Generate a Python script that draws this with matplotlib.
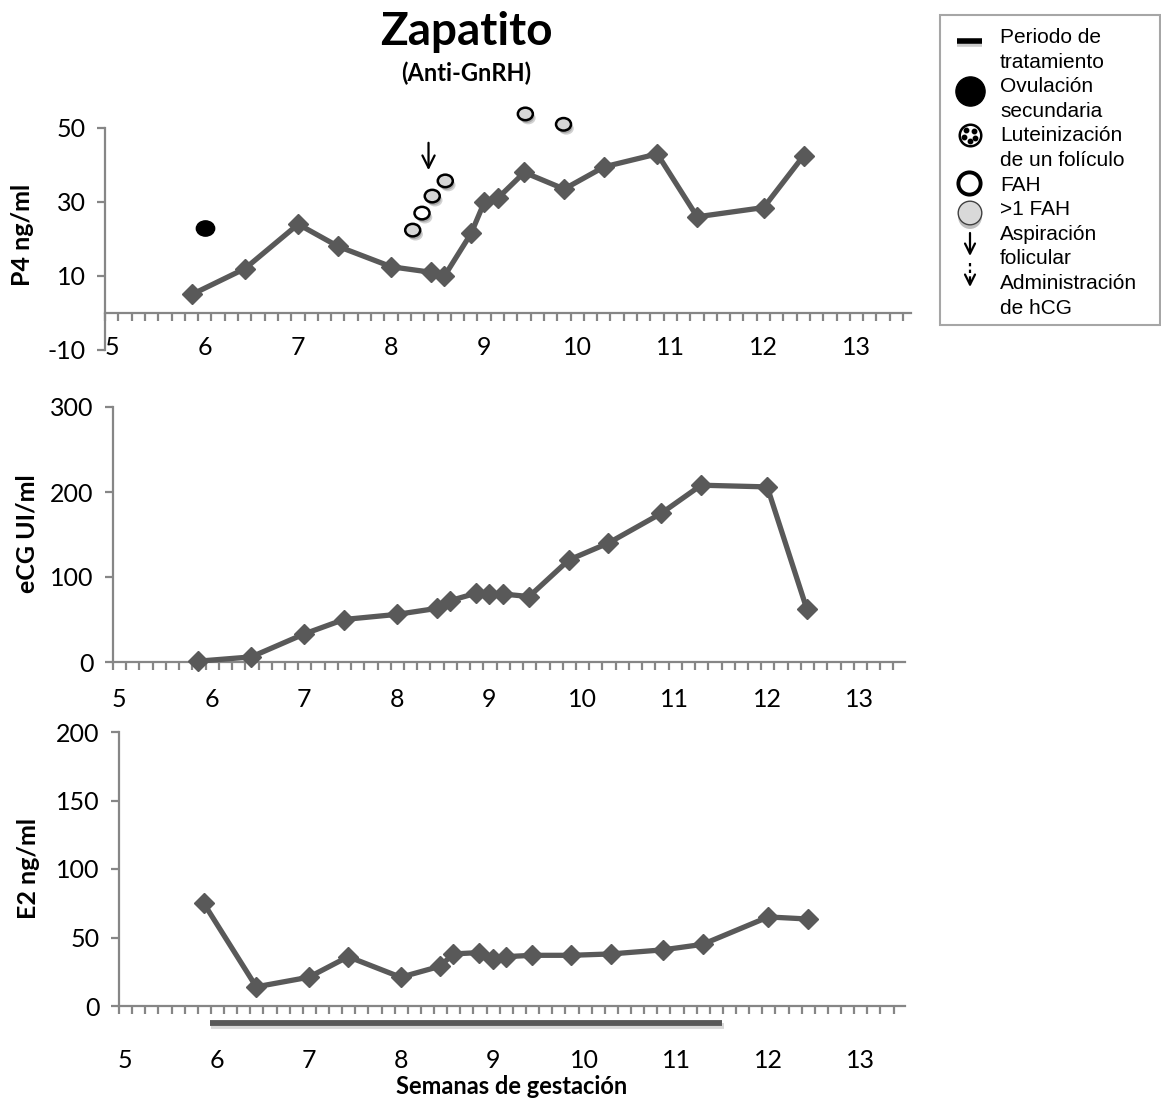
import matplotlib
matplotlib.use("Agg")
import matplotlib.pyplot as plt
import matplotlib.patheffects as pe
from matplotlib.markers import MarkerStyle
from matplotlib.patches import Rectangle
from matplotlib.ticker import FixedLocator
from matplotlib.transforms import Affine2D
import numpy as np

plt.rcParams["axes.unicode_minus"] = False

# ---------------- datos ----------------
# Día de gestación de cada muestreo (se grafica en semanas)
dias = [41, 45, 49, 52, 56, 59, 60, 62, 63, 64, 66, 69, 72, 76, 79, 84, 87]
p4 = [5, 12, 24, 18, 12.5, 11, 10, 21.5, 30, 31, 38, 33.5, 39.5, 43, 26, 28.5, 42.5]
ecg = [1, 6, 33, 50, 56, 63, 72, 81, 80, 80, 77, 120, 140, 175, 208, 206, 62]
e2 = [75, 14, 21, 36, 21, 29, 38, 39, 34, 36, 37, 37, 38, 41, 45, 65, 63.5]

# Eventos ováricos (semana, posición vertical en la escala de P4)
ovulacion_sem = [6.0]
ovulacion_p4 = [23]
fah_sem = [8.33]
fah_p4 = [27]
fah_multi_sem = [8.23, 8.44, 8.58, 9.44, 9.85]
fah_multi_p4 = [22.4, 31.6, 35.7, 53.8, 51]
aspiracion_sem = 8.40
aspiracion_p4 = (46, 38.6)

# Periodo de tratamiento (semanas)
tratamiento = (5.925, 11.5)

semanas_ticks = list(range(5, 14))
p4_ticks = [-10, 10, 30, 50]
ecg_ticks = [0, 100, 200, 300]
e2_ticks = [0, 50, 100, 150, 200]

semanas = [d / 7 for d in dias]

# ---------------- estilo ----------------
GRIS_EJE = "#868686"
GRIS_LINEA = "#595959"
FUENTE = "Lato"
TAM_TICK = 18
TAM_EJE = 18
W, H = 1161, 1099

fig = plt.figure(figsize=(W / 100, H / 100), dpi=100)
fig.patch.set_facecolor("white")


def ejes(px_left, px_right, px_top, px_bottom):
    return fig.add_axes([px_left / W, 1 - px_bottom / H,
                         (px_right - px_left) / W, (px_bottom - px_top) / H])


def estilo(ax, xlim, ylim, yticks, pad_x):
    ax.set_xlim(xlim)
    ax.set_ylim(ylim)
    ax.set_facecolor("none")
    for s in ("top", "right"):
        ax.spines[s].set_visible(False)
    for s in ("left", "bottom"):
        ax.spines[s].set_color(GRIS_EJE)
        ax.spines[s].set_linewidth(1.6)
    ax.set_yticks(yticks)
    ax.tick_params(axis="y", direction="out", length=6, width=1.6,
                   color=GRIS_EJE, labelsize=TAM_TICK, pad=8)
    ax.set_xticks(semanas_ticks)
    ax.set_xticklabels([str(s) for s in semanas_ticks])
    ax.tick_params(axis="x", which="major", length=0, labelsize=TAM_TICK, pad=pad_x)
    menores = np.arange(xlim[0], xlim[1] + 1e-6, 1 / 7)
    ax.xaxis.set_minor_locator(FixedLocator(menores))
    ax.tick_params(axis="x", which="minor", direction="out", length=6,
                   width=1.6, color=GRIS_EJE)
    for lab in ax.get_xticklabels() + ax.get_yticklabels():
        lab.set_fontfamily(FUENTE)
    return menores


def serie(ax, y):
    ax.plot(semanas, y, color=GRIS_LINEA, lw=3.8, marker="D", ms=10,
            mfc=GRIS_LINEA, mec=GRIS_LINEA, zorder=5, clip_on=False)


# ---------------- P4 ----------------
ax1 = ejes(105, 911, 128, 350)
xl1 = (4.925, 4.925 + 806 / 93.1)
menores1 = estilo(ax1, xl1, (-10, 50), p4_ticks, pad_x=-10)
ax1.spines["bottom"].set_visible(False)
ax1.tick_params(axis="x", which="minor", length=0)
sec = ax1.secondary_xaxis(1 / 6)
sec.set_xticks([])
sec.xaxis.set_minor_locator(FixedLocator(menores1))
sec.tick_params(axis="x", which="minor", direction="out", length=6,
                width=1.6, color=GRIS_EJE)
sec.spines["bottom"].set_color(GRIS_EJE)
sec.spines["bottom"].set_linewidth(1.6)
serie(ax1, p4)

sombra = [pe.SimplePatchShadow(offset=(2, -3), shadow_rgbFace="k", alpha=0.18),
          pe.SimplePatchShadow(offset=(1, -2), shadow_rgbFace="k", alpha=0.18),
          pe.Normal()]
elipse = MarkerStyle("o", transform=Affine2D().scale(1.2, 1.0))
ax1.plot(ovulacion_sem, ovulacion_p4, ls="none",
         marker=MarkerStyle("o", transform=Affine2D().scale(1.2, 1.0)),
         ms=11, mfc="black", mec="black", zorder=6, clip_on=False)
ax1.plot(fah_multi_sem, fah_multi_p4, ls="none", marker=elipse, ms=9,
         mfc="#d6d6d6", mec="black", mew=1.8, zorder=6, clip_on=False,
         path_effects=sombra)
ax1.plot(fah_sem, fah_p4, ls="none", marker=elipse, ms=9,
         mfc="white", mec="black", mew=1.8, zorder=6, clip_on=False,
         path_effects=sombra)
ax1.annotate("", xy=(aspiracion_sem, aspiracion_p4[1]),
             xytext=(aspiracion_sem, aspiracion_p4[0]),
             arrowprops=dict(arrowstyle="->", lw=1.6, color="black",
                             mutation_scale=22, shrinkA=0, shrinkB=0),
             annotation_clip=False)

# ---------------- eCG ----------------
ax2 = ejes(113, 905, 407, 662)
xl2 = (4.935, 4.935 + 792 / 92.6)
estilo(ax2, xl2, (0, 300), ecg_ticks, pad_x=19)
serie(ax2, ecg)

# ---------------- E2 ----------------
ax3 = ejes(119, 905, 732, 1006)
xl3 = (4.935, 4.935 + 786 / 91.9)
estilo(ax3, xl3, (0, 200), e2_ticks, pad_x=31)
serie(ax3, e2)
ax3.plot(tratamiento, [-12.4, -12.4], color=GRIS_LINEA, lw=4.2,
         solid_capstyle="butt", clip_on=False, zorder=4,
         path_effects=[pe.SimpleLineShadow(offset=(1, -2), shadow_color="k", alpha=0.15),
                       pe.Normal()])

# ---------------- textos ----------------
fig.text(466 / W, 1 - 32 / H, "Zapatito", ha="center", va="center",
         fontsize=33, fontweight="bold", family=FUENTE)
fig.text(466 / W, 1 - 73 / H, "(Anti-GnRH)", ha="center", va="center",
         fontsize=17, fontweight="bold", family=FUENTE)
fig.text(23 / W, 1 - 235 / H, "P4 ng/ml", rotation=90, ha="center",
         va="center", fontsize=TAM_EJE, fontweight="bold", family=FUENTE)
fig.text(27 / W, 1 - 534 / H, "eCG UI/ml", rotation=90, ha="center",
         va="center", fontsize=TAM_EJE, fontweight="bold", family=FUENTE)
fig.text(29 / W, 1 - 868 / H, "E2 ng/ml", rotation=90, ha="center",
         va="center", fontsize=TAM_EJE, fontweight="bold", family=FUENTE)
fig.text(512 / W, 1 - 1087 / H, "Semanas de gestación", ha="center",
         va="center", fontsize=17, fontweight="bold", family=FUENTE)

# ---------------- leyenda ----------------
axl = fig.add_axes([0, 0, 1, 1], facecolor="none")
axl.set_xlim(0, W)
axl.set_ylim(H, 0)
axl.axis("off")
axl.add_patch(Rectangle((940, 15), 220, 310, fill=False, ec="#a6a6a6", lw=1.5))

lineas = ["Periodo de", "tratamiento", "Ovulación", "secundaria",
          "Luteinización", "de un folículo", "FAH", ">1 FAH", "Aspiración",
          "folicular", "Administración", "de hCG"]
for i, t in enumerate(lineas):
    axl.text(1000, 43 + i * 24.6, t, ha="left", va="baseline", fontsize=15,
             family="Liberation Sans")

cx = 970
axl.plot([957, 982], [41, 41], color="black", lw=4, solid_capstyle="butt",
         path_effects=[pe.SimpleLineShadow(offset=(0, -2), alpha=0.2), pe.Normal()])
axl.plot([cx], [91], marker="o", ms=21, mfc="black", mec="black")
axl.plot([cx], [135], marker="o", ms=15.5, mfc="white", mec="black", mew=1.8)
for dx, dy in [(-4, -5), (4, -4), (-6, 2), (5, 3), (0, 6)]:
    axl.plot([cx + dx], [135 + dy], marker="o", ms=3.2, mfc="black", mec="black")
axl.plot([cx - 1], [183], marker="o", ms=16, mfc="white", mec="black", mew=2.8)
axl.plot([cx], [213], marker="o", ms=17, mfc="#d9d9d9", mec="#404040", mew=1,
         path_effects=[pe.SimplePatchShadow(offset=(0, -3), shadow_rgbFace="k", alpha=0.25),
                       pe.Normal()])
axl.annotate("", xy=(cx, 256), xytext=(cx, 233),
             arrowprops=dict(arrowstyle="->", lw=1.6, color="black",
                             mutation_scale=18, shrinkA=0, shrinkB=0))
axl.plot([cx, cx], [263, 279], color="black", lw=1.6, ls=(0, (1.5, 1.5)))
axl.annotate("", xy=(cx, 287), xytext=(cx, 279),
             arrowprops=dict(arrowstyle="->", lw=1.6, color="black",
                             mutation_scale=18, shrinkA=0, shrinkB=0))

fig.savefig("out.png", dpi=100, facecolor="white")
